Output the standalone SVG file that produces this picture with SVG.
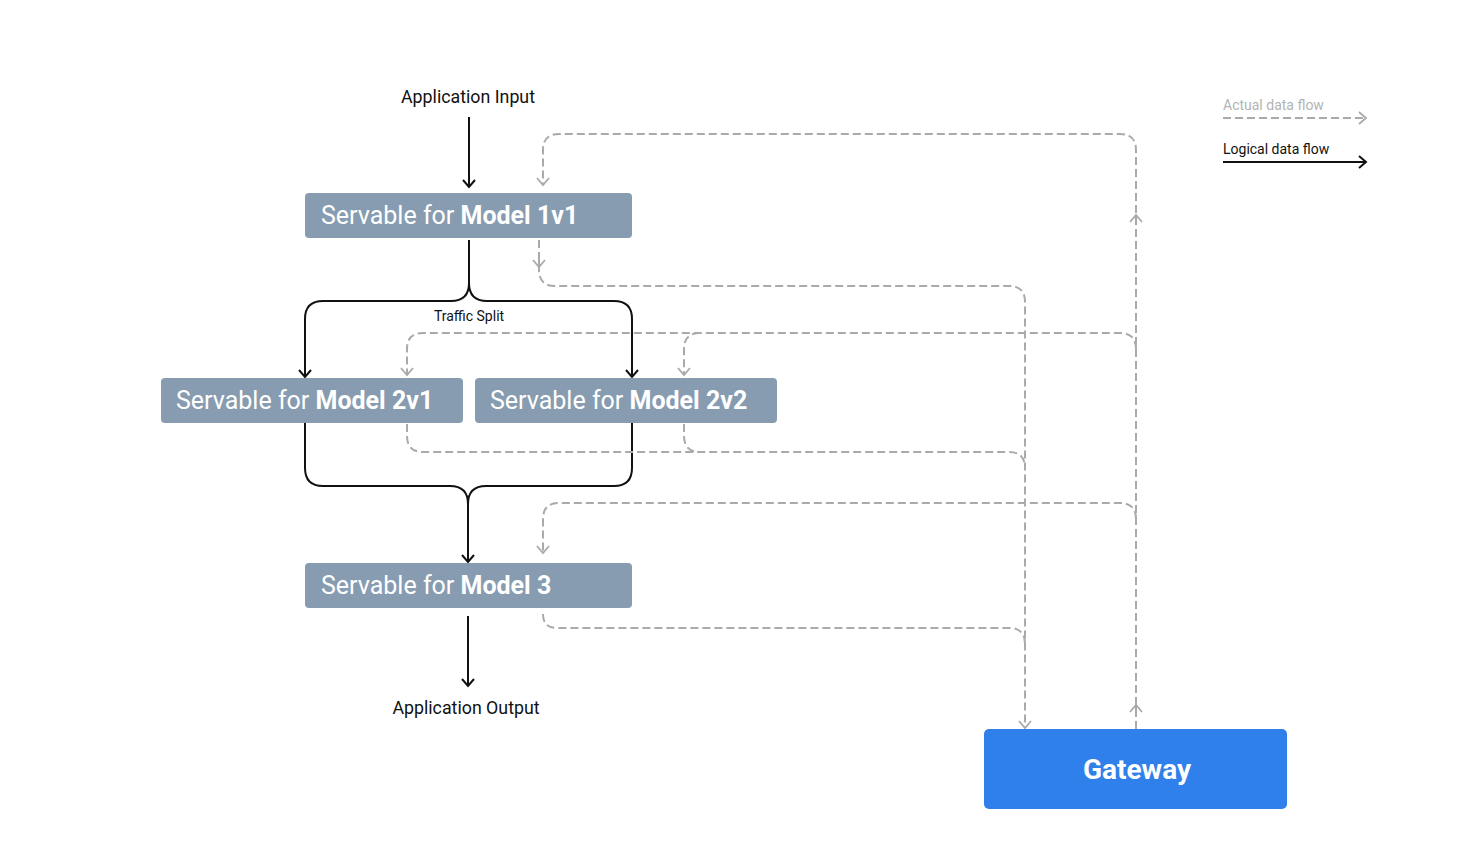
<svg xmlns="http://www.w3.org/2000/svg" width="1464" height="856" viewBox="0 0 1464 856">
<style>
.box{fill:#879cb0}
.lbl{font-family:Roboto,"Liberation Sans",sans-serif;font-size:25px;fill:#ffffff}
.b{font-weight:bold}
.t{font-family:Roboto,"Liberation Sans",sans-serif;fill:#111}
.k{fill:none;stroke:#111;stroke-width:2}
.g{fill:none;stroke:#aaaaaa;stroke-width:2;stroke-dasharray:8 4}
</style>
<defs>
<marker id="ak" markerUnits="userSpaceOnUse" markerWidth="20" markerHeight="20" refX="0" refY="0" viewBox="-10 -10 20 20" orient="auto" overflow="visible">
<path d="M-7,-6 L0,0 L-7,6" fill="none" stroke="#111" stroke-width="2"/>
</marker>
<marker id="ag" markerUnits="userSpaceOnUse" markerWidth="20" markerHeight="20" refX="0" refY="0" viewBox="-10 -10 20 20" orient="auto" overflow="visible">
<path d="M-7,-6 L0,0 L-7,6" fill="none" stroke="#aaaaaa" stroke-width="1.8"/>
</marker>
</defs>
<rect width="1464" height="856" fill="#ffffff"/>

<g id="connectors">
<!-- logical flow -->
<path class="k" d="M469,117 V187" marker-end="url(#ak)"/>
<path class="k" d="M469,240 V283 Q469,301 451,301 H323 Q305,301 305,319 V377" marker-end="url(#ak)"/>
<path class="k" d="M469,283 Q469,301 487,301 H614 Q632,301 632,319 V377" marker-end="url(#ak)"/>
<path class="k" d="M305,423 V468 Q305,486 323,486 H450 Q468,486 468,504 V562" marker-end="url(#ak)"/>
<path class="k" d="M632,423 V468 Q632,486 614,486 H486 Q468,486 468,504"/>
<path class="k" d="M468,616 V686" marker-end="url(#ak)"/>
<!-- actual flow: gateway to servables -->
<path class="g" d="M1136,729 V150 Q1136,134 1120,134 H559 Q543,134 543,150 V185" marker-end="url(#ag)"/>
<path class="g" d="M1136,712 V705" marker-end="url(#ag)"/>
<path class="g" d="M1136,222 V215" marker-end="url(#ag)"/>
<path class="g" d="M1136,349 Q1136,333 1120,333 H423 Q407,333 407,349 V375" marker-end="url(#ag)"/>
<path class="g" d="M700,333 Q684,333 684,349 V375" marker-end="url(#ag)"/>
<path class="g" d="M1136,519 Q1136,503 1120,503 H559 Q543,503 543,519 V553" marker-end="url(#ag)"/>
<!-- actual flow: servables to gateway -->
<path class="g" d="M539,240 V270 Q539,286 555,286 H1009 Q1025,286 1025,302 V728" marker-end="url(#ag)"/>
<path class="g" d="M539,260 V267" marker-end="url(#ag)"/>
<path class="g" d="M407,424 V436 Q407,452 423,452 H1009 Q1025,452 1025,468"/>
<path class="g" d="M684,424 V436 Q684,452 700,452"/>
<path class="g" d="M543,614 Q543,628 557,628 H1009 Q1025,628 1025,644"/>
</g>

<g id="input-label">
<text class="t" x="468" y="103" font-size="17.8" text-anchor="middle">Application Input</text>
</g>
<g id="output-label">
<text class="t" x="466" y="714" font-size="17.8" text-anchor="middle">Application Output</text>
</g>
<g id="traffic-split">
<text class="t" x="469" y="321" font-size="14" text-anchor="middle">Traffic Split</text>
</g>

<g id="model1v1">
<rect class="box" x="305" y="193" width="327" height="45" rx="4"/>
<text class="lbl" x="321" y="224">Servable for <tspan class="b">Model 1v1</tspan></text>
</g>
<g id="model2v1">
<rect class="box" x="161" y="378" width="302" height="45" rx="4"/>
<text class="lbl" x="176" y="409">Servable for <tspan class="b">Model 2v1</tspan></text>
</g>
<g id="model2v2">
<rect class="box" x="475" y="378" width="302" height="45" rx="4"/>
<text class="lbl" x="490" y="409">Servable for <tspan class="b">Model 2v2</tspan></text>
</g>
<g id="model3">
<rect class="box" x="305" y="563" width="327" height="45" rx="4"/>
<text class="lbl" x="321" y="594">Servable for <tspan class="b">Model 3</tspan></text>
</g>
<g id="gateway">
<rect x="984" y="729" width="303" height="80" rx="5" fill="#2f80ea"/>
<text x="1137" y="779" font-family="Roboto,'Liberation Sans',sans-serif" font-size="28" font-weight="bold" fill="#ffffff" text-anchor="middle">Gateway</text>
</g>

<g id="legend">
<text x="1223" y="110" font-family="Roboto,'Liberation Sans',sans-serif" font-size="14" fill="#b3b3b3">Actual data flow</text>
<path class="g" d="M1223,118 H1366" marker-end="url(#ag)"/>
<text class="t" x="1223" y="154" font-size="14">Logical data flow</text>
<path class="k" d="M1223,162 H1366" marker-end="url(#ak)"/>
</g>
</svg>
